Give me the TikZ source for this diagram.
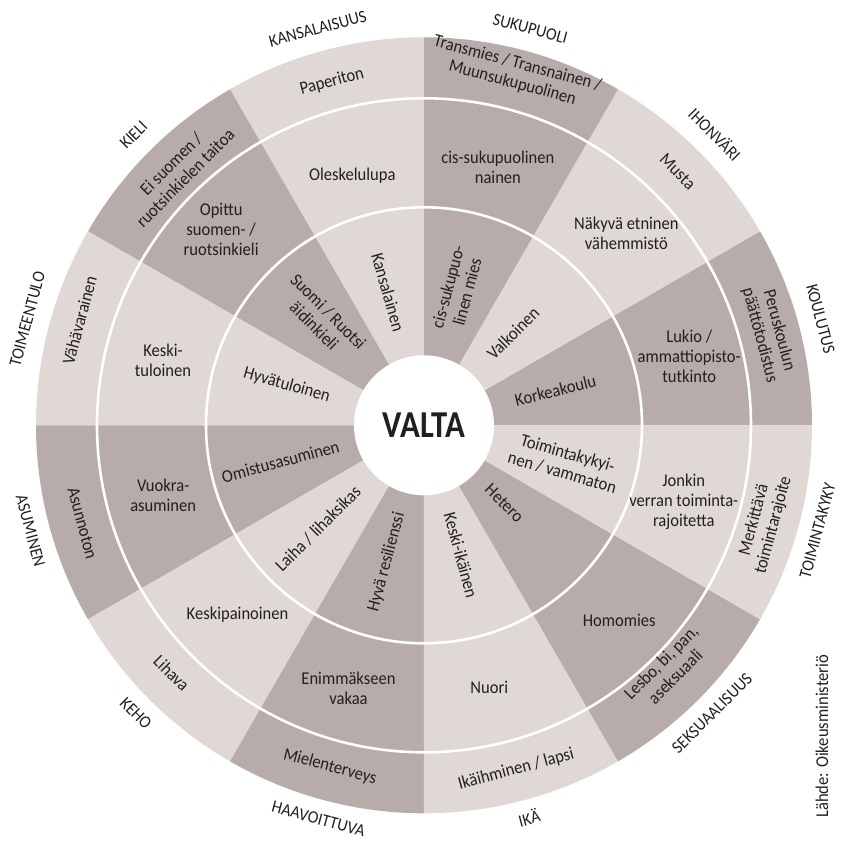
\documentclass[tikz,border=0pt]{standalone}
\usepackage{fontspec}
\setmainfont{Carlito}[FakeStretch=0.92]
\newfontfamily\valtafont{Carlito}[FakeStretch=0.86]
\usetikzlibrary{positioning}
\definecolor{darkseg}{RGB}{183,172,169}
\definecolor{lightseg}{RGB}{224,216,212}
\definecolor{ink}{RGB}{35,31,32}
\def\rhub{70}
\def\rone{218}
\def\rtwo{327}
\def\rout{388}
\def\rcat{409}
\tikzstyle{ringtext}=[text=ink,font=\fontsize{18}{20}\selectfont,align=center,inner sep=0pt]
\tikzstyle{cattext}=[ringtext,font=\fontsize{17.5}{20}\selectfont]
\tikzstyle{ringline}=[draw=white,line width=2.6pt]
\newcommand{\newSector}[3]{\fill[#3] (0,0) -- (#1:\rout) arc[start angle=#1,end angle=#2,radius=\rout] -- cycle;}
\newcommand{\newText}[5]{\node[ringtext,#3,rotate=#5](#1) at (#4){#2\strut};}
\newcommand{\newFlat}[3]{\node[ringtext](#1) at (#3){#2};}

\begin{document}
\begin{tikzpicture}[x=1pt,y=1pt]
    \useasboundingbox (-424,-415.7) rectangle (420,425.3);
    % sectors, 30 degrees each
    \newSector{0}{30}{darkseg}
    \newSector{30}{60}{lightseg}
    \newSector{60}{90}{darkseg}
    \newSector{90}{120}{lightseg}
    \newSector{120}{150}{darkseg}
    \newSector{150}{180}{lightseg}
    \newSector{180}{210}{darkseg}
    \newSector{210}{240}{lightseg}
    \newSector{240}{270}{darkseg}
    \newSector{270}{300}{lightseg}
    \newSector{300}{330}{darkseg}
    \newSector{330}{360}{lightseg}
    \draw[ringline] (0,0) circle[radius=\rone];
    \draw[ringline] (0,0) circle[radius=\rtwo];
    \fill[white] (0,0) circle[radius=\rhub];
    \node[text=ink,font=\valtafont\bfseries\fontsize{38}{38}\selectfont] (valta) at (0,0) {VALTA};

    % inner ring
    \newText{korkeakoulu}{Korkeakoulu}{}{14:136}{14}
    \newText{valkoinen}{Valkoinen}{}{45:128}{45}
    \newText{cismies}{cis-sukupuo-\\linen mies}{}{75:140}{75}
    \newText{kansalainen}{Kansalainen}{}{106:138}{-74}
    \newText{aidinkieli}{Suomi / Ruotsi\\äidinkieli}{}{135:148}{-45}
    \newText{hyvatuloinen}{Hyvätuloinen}{}{164:143}{-16}
    \newText{omistus}{Omistusasuminen}{}{195:148}{15}
    \newText{laiha}{Laiha / lihaksikas}{}{225:148}{45}
    \newText{resilienssi}{Hyvä resilienssi}{}{255:142}{75}
    \newText{keskiikainen}{Keski-ikäinen}{}{285:135}{-75}
    \newText{hetero}{Hetero}{}{315:112}{-45}
    \newText{toimintakykyinen}{Toimintakykyi-\\nen / vammaton}{}{344:146}{-16}

    % middle ring
    \newFlat{lukio}{Lukio /\\ammattiopisto-\\tutkinto}{14.5:274}
    \newFlat{nakyva}{Näkyvä etninen\\vähemmistö}{43.5:279}
    \newFlat{cisnainen}{cis-sukupuolinen\\nainen}{74:268}
    \newFlat{oleskelulupa}{Oleskelulupa}{106:260}
    \newFlat{opittu}{Opittu\\suomen- /\\ruotsinkieli}{136:282}
    \newFlat{keskituloinen}{Keski-\\tuloinen}{166:269}
    \newFlat{vuokra}{Vuokra-\\asuminen}{195:270}
    \newFlat{keskipainoinen}{Keskipainoinen}{225.5:266}
    \newFlat{enimmakseen}{Enimmäkseen\\vakaa}{254:274}
    \newFlat{nuori}{Nuori}{284:270}
    \newFlat{homomies}{Homomies}{315:276}
    \newFlat{jonkin}{Jonkin\\verran toiminta-\\rajoitetta}{343.5:271}

    % outer ring
    \newText{peruskoulu}{Peruskoulun\\päättötodistus}{}{15:356}{-75}
    \newText{musta}{Musta}{}{45:357}{-45}
    \newText{trans}{Transmies / Transnainen /\\Muunsukupuolinen}{}{75.5:362}{-15}
    \newText{paperiton}{Paperiton}{}{105:355}{15}
    \newText{eisuomen}{Ei suomen /\\ruotsinkielen taitoa}{}{134:351}{45}
    \newText{vahavarainen}{Vähävarainen}{}{163:358}{75}
    \newText{asunnoton}{Asunnoton}{}{196:357}{-75}
    \newText{lihava}{Lihava}{}{224.5:356}{-45}
    \newText{mielenterveys}{Mielenterveys}{}{254.6:355}{-15}
    \newText{ikaihminen}{Ikäihminen / lapsi}{}{285:357}{15}
    \newText{lesbo}{Lesbo, bi, pan,\\aseksuaali}{}{315:348}{45}
    \newText{merkittava}{Merkittävä\\toimintarajoite}{}{344:355}{75}

    % categories
    \newText{koulutus}{KOULUTUS}{cattext}{15:\rcat}{-75}
    \newText{ihonvari}{IHONVÄRI}{cattext}{45:\rcat}{-45}
    \newText{sukupuoli}{SUKUPUOLI}{cattext}{75:\rcat}{-15}
    \newText{kansalaisuus}{KANSALAISUUS}{cattext}{105:\rcat}{15}
    \newText{kieli}{KIELI}{cattext}{135:\rcat}{45}
    \newText{toimeentulo}{TOIMEENTULO}{cattext}{165:\rcat}{75}
    \newText{asuminen}{ASUMINEN}{cattext}{195:\rcat}{-75}
    \newText{keho}{KEHO}{cattext}{225:\rcat}{-45}
    \newText{haavoittuva}{HAAVOITTUVA}{cattext}{255:\rcat}{-15}
    \newText{ika}{IKÄ}{cattext}{285:\rcat}{15}
    \newText{seksuaalisuus}{SEKSUAALISUUS}{cattext}{315:\rcat}{45}
    \newText{toimintakyky}{TOIMINTAKYKY}{cattext}{345:\rcat}{75}

    \node[ringtext,rotate=90] (lahde) at (398,-311) {Lähde: Oikeusministeriö};
\end{tikzpicture}
\end{document}
